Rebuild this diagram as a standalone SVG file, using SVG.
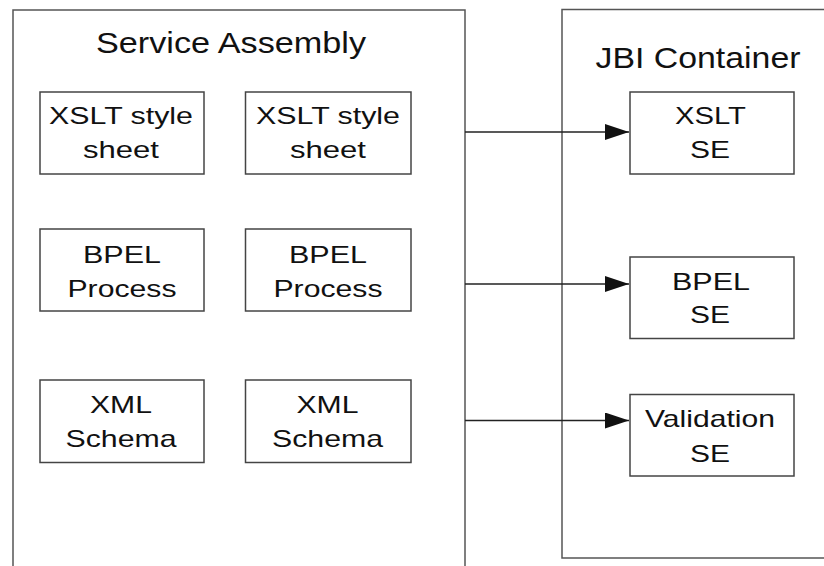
<svg xmlns="http://www.w3.org/2000/svg" width="824" height="566" viewBox="0 0 824 566">
  <style>
    .frame { fill: #ffffff; stroke: #555555; stroke-width: 1.5; }
    .box { fill: #ffffff; stroke: #444444; stroke-width: 1.5; }
    .t { font-family: "Liberation Sans", Arial, sans-serif; fill: #111111; text-anchor: middle; }
    .title { font-size: 29px; }
    .lbl { font-size: 24px; }
    .conn { stroke: #222222; stroke-width: 1.5; fill: none; }
  </style>
  <defs>
    <marker id="arrow" markerWidth="24" markerHeight="16" refX="24" refY="8" orient="auto" markerUnits="userSpaceOnUse">
      <path d="M0,0 L24,8 L0,16 Z" fill="#111111"/>
    </marker>
  </defs>
  <rect x="0" y="0" width="824" height="566" fill="#ffffff"/>

  <g id="service-assembly">
    <path class="frame" d="M13,580 L13,10 L465,10 L465,580"/>
    <text class="t title" x="231" y="53" textLength="270" lengthAdjust="spacingAndGlyphs">Service Assembly</text>
  </g>

  <g id="jbi-container">
    <path class="frame" d="M830,9.5 L562,9.5 L562,558 L830,558"/>
    <text class="t title" x="698" y="68" textLength="205" lengthAdjust="spacingAndGlyphs">JBI Container</text>
  </g>

  <g id="xslt-1">
    <rect class="box" x="40" y="92" width="164" height="82"/>
    <text class="t lbl" x="121" y="124" textLength="144" lengthAdjust="spacingAndGlyphs">XSLT style</text>
    <text class="t lbl" x="121" y="158" textLength="76" lengthAdjust="spacingAndGlyphs">sheet</text>
  </g>
  <g id="xslt-2">
    <rect class="box" x="245.5" y="92" width="165.5" height="82"/>
    <text class="t lbl" x="328" y="124" textLength="144" lengthAdjust="spacingAndGlyphs">XSLT style</text>
    <text class="t lbl" x="328" y="158" textLength="76" lengthAdjust="spacingAndGlyphs">sheet</text>
  </g>

  <g id="bpel-1">
    <rect class="box" x="40" y="229" width="164" height="82"/>
    <text class="t lbl" x="122" y="262.5" textLength="78" lengthAdjust="spacingAndGlyphs">BPEL</text>
    <text class="t lbl" x="122" y="296.5" textLength="109" lengthAdjust="spacingAndGlyphs">Process</text>
  </g>
  <g id="bpel-2">
    <rect class="box" x="245.5" y="229" width="165.5" height="82"/>
    <text class="t lbl" x="328" y="262.5" textLength="78" lengthAdjust="spacingAndGlyphs">BPEL</text>
    <text class="t lbl" x="328" y="296.5" textLength="109" lengthAdjust="spacingAndGlyphs">Process</text>
  </g>

  <g id="xml-1">
    <rect class="box" x="40" y="380" width="164" height="82.5"/>
    <text class="t lbl" x="121" y="413" textLength="62" lengthAdjust="spacingAndGlyphs">XML</text>
    <text class="t lbl" x="121" y="446.5" textLength="111" lengthAdjust="spacingAndGlyphs">Schema</text>
  </g>
  <g id="xml-2">
    <rect class="box" x="245.5" y="380" width="165.5" height="82.5"/>
    <text class="t lbl" x="327.5" y="413" textLength="62" lengthAdjust="spacingAndGlyphs">XML</text>
    <text class="t lbl" x="327.5" y="446.5" textLength="111" lengthAdjust="spacingAndGlyphs">Schema</text>
  </g>

  <g id="xslt-se">
    <rect class="box" x="630" y="92" width="164" height="82"/>
    <text class="t lbl" x="710.5" y="123.5" textLength="71" lengthAdjust="spacingAndGlyphs">XSLT</text>
    <text class="t lbl" x="710" y="158" textLength="40" lengthAdjust="spacingAndGlyphs">SE</text>
  </g>
  <g id="bpel-se">
    <rect class="box" x="630" y="257" width="164" height="81.5"/>
    <text class="t lbl" x="711" y="290" textLength="78" lengthAdjust="spacingAndGlyphs">BPEL</text>
    <text class="t lbl" x="710" y="323" textLength="40" lengthAdjust="spacingAndGlyphs">SE</text>
  </g>
  <g id="validation-se">
    <rect class="box" x="630" y="394.5" width="164" height="81.5"/>
    <text class="t lbl" x="710" y="426.5" textLength="130" lengthAdjust="spacingAndGlyphs">Validation</text>
    <text class="t lbl" x="710" y="461.5" textLength="40" lengthAdjust="spacingAndGlyphs">SE</text>
  </g>

  <g id="connectors">
    <line class="conn" x1="465" y1="132" x2="629" y2="132" marker-end="url(#arrow)"/>
    <line class="conn" x1="465" y1="284" x2="629" y2="284" marker-end="url(#arrow)"/>
    <line class="conn" x1="465" y1="420.5" x2="629" y2="420.5" marker-end="url(#arrow)"/>
  </g>
</svg>
